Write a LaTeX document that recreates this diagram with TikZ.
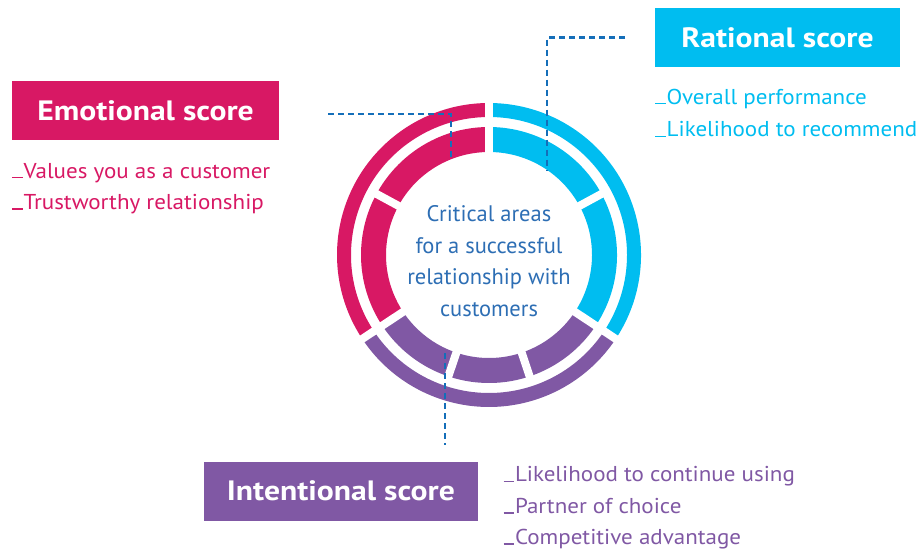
\documentclass[tikz,border=0pt]{standalone}
\usepackage{fontspec}
\setmainfont{PT Sans}
\newfontfamily\headfont[FakeStretch=1.13]{PT Sans}
\newfontfamily\itemfont[FakeStretch=1.07]{PT Sans}
\definecolor{epink}{RGB}{216,24,100}
\definecolor{ecyan}{RGB}{0,189,240}
\definecolor{epurple}{RGB}{128,88,164}
\definecolor{dblue}{RGB}{20,110,185}
\definecolor{tblue}{RGB}{45,110,180}
\newcommand{\ringseg}[5]{\fill[#1] (#2:#5) arc[start angle=#2,end angle=#3,radius=#5] -- (#3:#4) arc[start angle=#3,end angle=#2,radius=#4] -- cycle;}
\newcommand{\ldash}{\rule[-0.4pt]{10.5pt}{1.3pt}\hspace{1pt}}
\tikzset{
  scorebox/.style={inner sep=0, text=white, font=\headfont\fontsize{28}{32}\selectfont\bfseries, text height=19.5pt, text depth=0pt},
  listitem/.style={anchor=base west, inner sep=0, font=\itemfont\fontsize{21.5}{26}\selectfont},
  dashline/.style={draw=dblue, line width=2.4pt, dash pattern=on 6pt off 4pt},
  cut/.style={draw=white, line width=8pt}
}
\begin{document}
\begin{tikzpicture}[x=1pt,y=1pt]
\useasboundingbox (0,0) rectangle (917,550);
% ring
\begin{scope}[shift={(489,295)}]
  \ringseg{epink}{90}{213.5}{138}{152}
  \ringseg{epurple}{213.5}{326.5}{138}{152}
  \ringseg{ecyan}{-33.5}{90}{138}{152}
  \ringseg{ecyan}{-33.5}{90}{103}{128}
  \ringseg{epurple}{213.5}{326.5}{103}{128}
  \ringseg{epink}{90}{213.5}{103}{128}
  \foreach \a in {90,213.5,326.5} \draw[cut] (\a:98) -- (\a:157);
  \foreach \a in {28.5,151.5,251.5,288.5} \draw[cut] (\a:98) -- (\a:132);
\end{scope}
\node[text=tblue, align=center, font=\fontsize{22.5}{31.7}\selectfont, inner sep=0] (centre) at (489,289) {Critical areas\\for a successful\\relationship with\\customers};
% boxes
\node[scorebox, fill=epink, minimum width=267pt, minimum height=59pt] (emo) at (145.5,439.5) {Emotional score};
\node[scorebox, fill=ecyan, minimum width=245pt, minimum height=58.4pt] (rat) at (777.5,512.5) {Rational score};
\node[scorebox, fill=epurple, minimum width=273.7pt, minimum height=59pt] (int) at (340.9,58.8) {Intentional score};
% lists
\node[listitem, text=epink] (e1) at (12,372) {\ldash Values you as a customer};
\node[listitem, text=epink] (e2) at (12,340.7) {\ldash Trustworthy relationship};
\node[listitem, text=ecyan] (r1) at (655,446) {\ldash Overall performance};
\node[listitem, text=ecyan] (r2) at (655,413.3) {\ldash Likelihood to recommend};
\node[listitem, text=epurple] (i1) at (503.3,68.3) {\ldash Likelihood to continue using};
\node[listitem, text=epurple] (i2) at (503.3,36.7) {\ldash Partner of choice};
\node[listitem, text=epurple] (i3) at (503.3,5.7) {\ldash Competitive advantage};
% connectors
\coordinate (ea) at (328,436);
\coordinate (eb) at (451,390);
\coordinate (ra) at (625,512.3);
\coordinate (rb) at (547,380);
\coordinate (ia) at (445,197);
\coordinate (ib) at (445,105);
\draw[dashline] (ea) -| (eb);
\draw[dashline] (ra) -| (rb);
\draw[dashline] (ia) -- (ib);
\end{tikzpicture}
\end{document}
